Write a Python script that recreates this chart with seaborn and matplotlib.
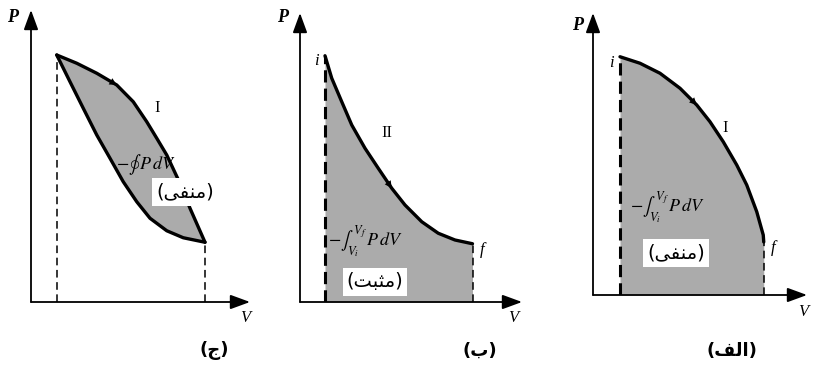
import matplotlib
matplotlib.use("Agg")
import matplotlib.pyplot as plt
import seaborn as sns
import pandas as pd

# --- values (V, P in arbitrary units, 1 unit ~ 25 px) ---
# panel (ج): closed cycle, upper path I and lower return path
cyc_up_v = [1.03, 1.83, 2.63, 3.43, 4.09, 4.63, 5.03, 5.43, 5.93, 6.36, 6.96]
cyc_up_p = [9.88, 9.55, 9.15, 8.68, 8.01, 7.21, 6.55, 5.88, 4.81, 3.75, 2.39]
cyc_lo_v = [1.03, 1.56, 2.09, 2.63, 3.16, 3.69, 4.23, 4.76, 5.43, 6.09, 6.96]
cyc_lo_p = [9.88, 8.81, 7.75, 6.68, 5.75, 4.81, 4.01, 3.35, 2.85, 2.57, 2.39]

# panel (ب): path II from i to f
path2_v = [1.00, 1.27, 1.67, 2.07, 2.60, 3.13, 3.67, 4.20, 4.87, 5.53, 6.20, 6.90]
path2_p = [9.85, 8.95, 8.01, 7.08, 6.15, 5.35, 4.55, 3.88, 3.21, 2.75, 2.48, 2.33]

# panel (الف): path I from i to f
path1_v = [1.08, 1.88, 2.68, 3.48, 4.15, 4.68, 5.21, 5.75, 6.15, 6.55, 6.81, 6.83]
path1_p = [9.53, 9.27, 8.87, 8.27, 7.60, 6.93, 6.13, 5.20, 4.40, 3.33, 2.40, 2.12]

# Persian labels (presentation forms, visual order)
neg_word = "(\uFEF0\uFED4\uFEE8\uFEE3)"      # منفی
pos_word = "(\uFE96\uFE92\uFE9C\uFEE3)"      # مثبت
captions = ["(\uFE9D)", "(\uFE8F)", "(\uFED2\uFEDF\uFE8D)"]   # ج ، ب ، الف

W, H = 814, 379
K = 25.0  # px per unit
shade = "#ababab"

sns.set_theme(style="white")
plt.rcParams["font.family"] = ["DejaVu Sans"]
plt.rcParams["mathtext.fontset"] = "stix"

fig = plt.figure(figsize=(W / 100, H / 100), dpi=100)
fig.patch.set_facecolor("white")


def panel(ox, oy):
    ax = fig.add_axes([ox / W, (H - oy) / H, 240 / W, 300 / H])
    ax.set_xlim(0, 240 / K)
    ax.set_ylim(0, 300 / K)
    ax.axis("off")
    return ax


def axes_arrows(ax, xend, yend):
    ap = dict(arrowstyle="-|>,head_length=0.6,head_width=0.22", color="black",
              lw=1.3, mutation_scale=20, shrinkA=0, shrinkB=0)
    ax.annotate("", xy=(xend, 0), xytext=(0, 0), arrowprops=ap)
    ax.annotate("", xy=(0, yend), xytext=(0, 0), arrowprops=ap)


def dir_arrow(ax, v, p, i):
    ax.annotate("", xy=(v[i + 1], p[i + 1]), xytext=(v[i], p[i]),
                arrowprops=dict(arrowstyle="-|>", color="black", lw=0,
                                mutation_scale=13, shrinkA=0, shrinkB=0))


def curve(ax, v, p):
    d = pd.DataFrame({"V": v, "P": p})
    sns.lineplot(data=d, x="V", y="P", ax=ax, color="black", lw=2.4,
                 sort=False, estimator=None, solid_joinstyle="round",
                 solid_capstyle="round")


serif_it = dict(family="Liberation Serif", style="italic", color="black")
serif = dict(family="Liberation Serif", color="black")
box = dict(facecolor="white", edgecolor="none", pad=3)
thin_dash = (0, (5, 3))
bold_dash = (0, (4, 2))

# ---------- panel (ج) ----------
ax = panel(31, 302)
ax.fill(cyc_up_v + cyc_lo_v[::-1], cyc_up_p + cyc_lo_p[::-1], color=shade, lw=0)
curve(ax, cyc_up_v, cyc_up_p)
curve(ax, cyc_lo_v, cyc_lo_p)
ax.vlines([cyc_up_v[0]], 0, cyc_up_p[0], colors="black", lw=1.1, linestyles=thin_dash)
ax.vlines([cyc_up_v[-1]], 0, cyc_up_p[-1], colors="black", lw=1.1, linestyles=thin_dash)
axes_arrows(ax, 8.76, 11.68)
dir_arrow(ax, cyc_up_v, cyc_up_p, 2)
ax.text(-0.75, 11.4, "P", fontsize=13, fontweight="bold", ha="center", va="center", **serif_it)
ax.text(8.56, -0.65, "V", fontsize=12, ha="center", va="center", **serif_it)
ax.text(5.04, 7.75, "I", fontsize=12, ha="center", va="center", **serif)
ax.text(4.6, 5.5, r"$-\oint\, P\, dV$", fontsize=13, ha="center", va="center", color="black")
ax.text(6.15, 4.4, neg_word, fontsize=14, ha="center", va="center", color="black", bbox=box)

# ---------- panel (ب) ----------
ax = panel(300, 302)
ax.fill_between(path2_v, path2_p, 0, color=shade, lw=0)
curve(ax, path2_v, path2_p)
ax.vlines([path2_v[0]], 0, path2_p[0], colors="black", lw=2.2, linestyles=bold_dash)
ax.vlines([path2_v[-1]], 0, path2_p[-1], colors="black", lw=1.1, linestyles=thin_dash)
axes_arrows(ax, 8.88, 11.56)
dir_arrow(ax, path2_v, path2_p, 5)
ax.text(-0.7, 11.4, "P", fontsize=13, fontweight="bold", ha="center", va="center", **serif_it)
ax.text(8.52, -0.62, "V", fontsize=12, ha="center", va="center", **serif_it)
ax.text(0.65, 9.65, "i", fontsize=12, ha="center", va="center", **serif_it)
ax.text(7.3, 2.1, "f", fontsize=12, ha="center", va="center", **serif_it)
ax.text(3.48, 6.75, "II", fontsize=12, ha="center", va="center", **serif)
ax.text(2.6, 2.4, r"$-\int_{V_i}^{V_f}\, P\, dV$", fontsize=13, ha="center", va="center", color="black")
ax.text(3.0, 0.8, pos_word, fontsize=14, ha="center", va="center", color="black", bbox=box)

# ---------- panel (الف) ----------
ax = panel(593, 295)
ax.fill_between(path1_v, path1_p, 0, color=shade, lw=0)
curve(ax, path1_v, path1_p)
ax.vlines([path1_v[0]], 0, path1_p[0], colors="black", lw=2.2, linestyles=bold_dash)
ax.vlines([path1_v[-1]], 0, path1_p[-1], colors="black", lw=1.1, linestyles=thin_dash)
axes_arrows(ax, 8.56, 11.28)
dir_arrow(ax, path1_v, path1_p, 3)
ax.text(-0.6, 10.8, "P", fontsize=13, fontweight="bold", ha="center", va="center", **serif_it)
ax.text(8.4, -0.68, "V", fontsize=12, ha="center", va="center", **serif_it)
ax.text(0.72, 9.3, "i", fontsize=12, ha="center", va="center", **serif_it)
ax.text(7.2, 1.9, "f", fontsize=12, ha="center", va="center", **serif_it)
ax.text(5.3, 6.7, "I", fontsize=12, ha="center", va="center", **serif)
ax.text(2.97, 3.5, r"$-\int_{V_i}^{V_f}\, P\, dV$", fontsize=13, ha="center", va="center", color="black")
ax.text(3.32, 1.68, neg_word, fontsize=14, ha="center", va="center", color="black", bbox=box)

# captions under the panels
for x, c in zip([214, 480, 732], captions):
    fig.text(x / W, 1 - 351 / H, c, fontsize=13, fontweight="bold",
             ha="center", va="center", color="black")

fig.savefig("out.png", dpi=100, facecolor="white")
